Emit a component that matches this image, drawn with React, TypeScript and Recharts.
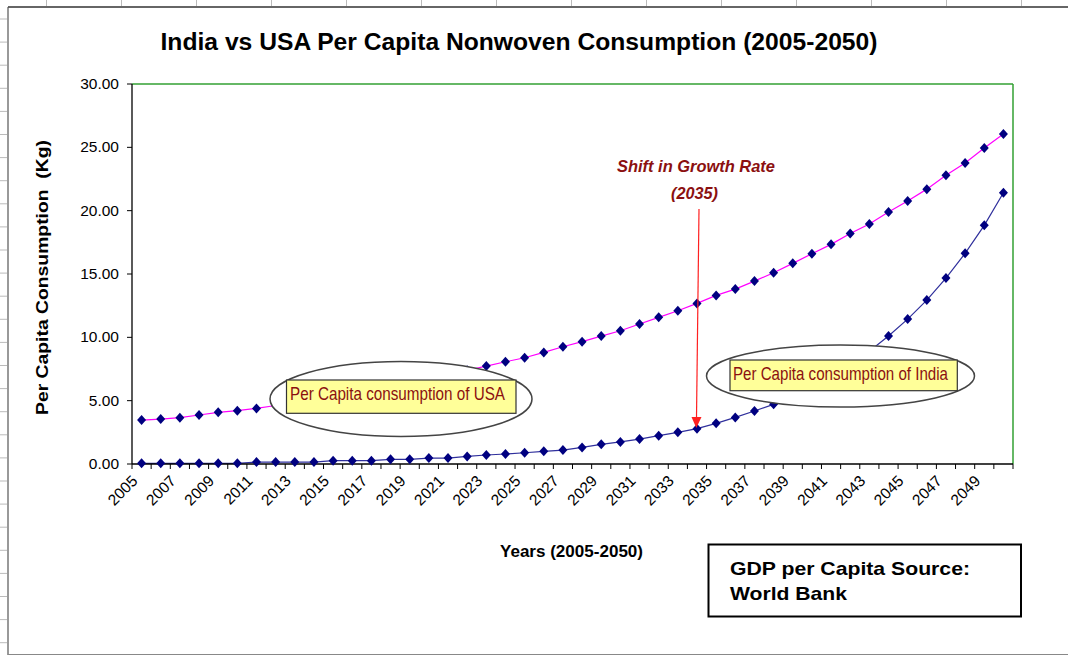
import React from 'react';
import { LineChart, Line, XAxis, YAxis, ReferenceLine } from 'recharts';

const years = [
  2005, 2006, 2007, 2008, 2009, 2010, 2011, 2012, 2013, 2014,
  2015, 2016, 2017, 2018, 2019, 2020, 2021, 2022, 2023, 2024,
  2025, 2026, 2027, 2028, 2029, 2030, 2031, 2032, 2033, 2034,
  2035, 2036, 2037, 2038, 2039, 2040, 2041, 2042, 2043, 2044,
  2045, 2046, 2047, 2048, 2049, 2050,
];

const usaValues = [
  3.47, 3.55, 3.66, 3.87, 4.08, 4.21, 4.39, 4.62, 4.86, 5.12,
  5.38, 5.64, 5.91, 6.19, 6.48, 6.78, 7.08, 7.40, 7.73, 8.07,
  8.39, 8.81, 9.26, 9.66, 10.10, 10.52, 11.05, 11.58, 12.10, 12.68,
  13.31, 13.81, 14.44, 15.10, 15.84, 16.60, 17.34, 18.20, 18.95, 19.90,
  20.76, 21.70, 22.80, 23.76, 24.94, 26.05,
];

const indiaValues = [
  0.05, 0.05, 0.05, 0.05, 0.05, 0.05, 0.15, 0.15, 0.15, 0.15,
  0.26, 0.26, 0.26, 0.37, 0.37, 0.47, 0.47, 0.60, 0.71, 0.79,
  0.89, 1.00, 1.10, 1.31, 1.55, 1.74, 1.97, 2.24, 2.50, 2.79,
  3.21, 3.68, 4.18, 4.71, 5.40, 6.15, 6.95, 7.85, 8.90, 10.10,
  11.44, 12.94, 14.68, 16.63, 18.84, 21.42,
];

const yTicks = [0, 5, 10, 15, 20, 25, 30];

const data = years.map((year, i) => ({
  idx: i,
  year,
  usa: usaValues[i],
  india: indiaValues[i],
}));

// boundary ticks (half-integers) for tick marks, integer ticks for labels
const xTicks: number[] = [];
for (let k = 0; k < years.length; k++) {
  xTicks.push(k - 0.5);
  xTicks.push(k);
}
xTicks.push(years.length - 0.5);

const NARROW = "'Liberation Sans Narrow', 'Arial Narrow', 'Liberation Sans', Arial, sans-serif";
const SANS = "'Liberation Sans', Arial, sans-serif";
const DARKRED = '#8B1010';

const XTick = (props: any) => {
  const { x, y, payload } = props;
  const v = payload.value as number;
  if (!Number.isInteger(v)) {
    return <line x1={x} y1={y} x2={x} y2={y + 5} stroke="#000" strokeWidth={1} />;
  }
  if (v % 2 !== 0) return <g />;
  const ax = x - 3;
  const ay = y + 18;
  return (
    <text
      x={ax}
      y={ay}
      textAnchor="end"
      transform={`rotate(-45, ${ax}, ${ay})`}
      fontSize={15.5}
      fontFamily={NARROW}
      fill="#000"
    >
      {years[v]}
    </text>
  );
};

const YTick = (props: any) => {
  const { x, y, payload } = props;
  return (
    <text x={x} y={y + 5} textAnchor="end" fontSize={15.5} fontFamily={NARROW} fill="#000">
      {(payload.value as number).toFixed(2)}
    </text>
  );
};

const Diamond = (props: any) => {
  const { cx, cy, index } = props;
  if (cx == null || cy == null) return <g key={`e${index}`} />;
  return (
    <path
      key={`d${index}`}
      d={`M${cx},${cy - 5}L${cx + 4.5},${cy}L${cx},${cy + 5}L${cx - 4.5},${cy}Z`}
      fill="#000080"
    />
  );
};

const leftTicks: number[] = [];
for (let k = 0; k < 28; k++) leftTicks.push(19 + 23.1 * k);
const topTicks: number[] = [];
for (let k = 0; k < 14; k++) topTicks.push(46.5 + 75 * k);

export default function App() {
  return (
    <div
      style={{
        position: 'absolute',
        left: 0,
        top: 0,
        width: 1068,
        height: 656,
        background: '#fff',
        overflow: 'hidden',
      }}
    >
      <LineChart
        width={1068}
        height={656}
        data={data}
        margin={{ top: 84, right: 55, bottom: 132, left: 0 }}
      >
        <XAxis
          dataKey="idx"
          type="number"
          domain={[-0.5, years.length - 0.5]}
          ticks={xTicks}
          interval={0}
          tickLine={false}
          tickSize={0}
          tickMargin={0}
          tick={<XTick />}
          axisLine={{ stroke: '#000', strokeWidth: 1.3 }}
          height={60}
        />
        <YAxis
          type="number"
          domain={[0, 30]}
          ticks={yTicks}
          interval={0}
          width={132}
          tickSize={5}
          tickMargin={8}
          tickLine={{ stroke: '#000' }}
          axisLine={{ stroke: '#000', strokeWidth: 1.3 }}
          tick={<YTick />}
        />
        <ReferenceLine y={30} stroke="#33a033" strokeWidth={1.5} />
        <ReferenceLine x={years.length - 0.5} stroke="#33a033" strokeWidth={1.5} />
        <Line
          dataKey="india"
          type="linear"
          stroke="#2f2f9c"
          strokeWidth={1.2}
          dot={Diamond}
          activeDot={false}
          isAnimationActive={false}
        />
        <Line
          dataKey="usa"
          type="linear"
          stroke="#ff00ff"
          strokeWidth={1.2}
          dot={Diamond}
          activeDot={false}
          isAnimationActive={false}
        />
      </LineChart>
      <svg
        width={1068}
        height={656}
        style={{ position: 'absolute', left: 0, top: 0, pointerEvents: 'none' }}
      >
        {/* frame */}
        <line x1={8} y1={7} x2={1068} y2={7} stroke="#333" strokeWidth={1.5} />
        <line x1={8} y1={7} x2={8} y2={655} stroke="#555" strokeWidth={1.2} />
        <line x1={8} y1={654.5} x2={1068} y2={654.5} stroke="#888" strokeWidth={1} />
        {topTicks.map((x, i) => (
          <line key={`tt${i}`} x1={x} y1={0} x2={x} y2={6} stroke="#bbb" strokeWidth={1} />
        ))}
        {leftTicks.map((y, i) => (
          <line key={`lt${i}`} x1={0} y1={y} x2={7} y2={y} stroke="#bbb" strokeWidth={1} />
        ))}

        {/* title */}
        <text
          x={160.5}
          y={50}
          fontSize={23.5}
          fontWeight="bold"
          fontFamily={SANS}
          textLength={717}
          lengthAdjust="spacingAndGlyphs"
          fill="#000"
        >
          India vs USA Per Capita Nonwoven Consumption (2005-2050)
        </text>

        {/* axis titles */}
        <text
          x={0}
          y={0}
          transform="translate(47.5, 277.5) rotate(-90)"
          textAnchor="middle"
          fontSize={16}
          fontWeight="bold"
          fontFamily={SANS}
          textLength={275}
          lengthAdjust="spacingAndGlyphs"
          style={{ whiteSpace: 'pre' }}
          fill="#000"
        >
          Per Capita Consumption  (Kg)
        </text>
        <text
          x={571.5}
          y={557}
          textAnchor="middle"
          fontSize={16.5}
          fontWeight="bold"
          fontFamily={SANS}
          textLength={143}
          lengthAdjust="spacingAndGlyphs"
          fill="#000"
        >
          Years (2005-2050)
        </text>

        {/* shift annotation */}
        <text
          x={696}
          y={171.7}
          textAnchor="middle"
          fontSize={16.5}
          fontWeight="bold"
          fontStyle="italic"
          fontFamily={SANS}
          textLength={158}
          lengthAdjust="spacingAndGlyphs"
          fill={DARKRED}
        >
          Shift in Growth Rate
        </text>
        <text
          x={694.5}
          y={198.5}
          textAnchor="middle"
          fontSize={16.5}
          fontWeight="bold"
          fontStyle="italic"
          fontFamily={SANS}
          textLength={47}
          lengthAdjust="spacingAndGlyphs"
          fill={DARKRED}
        >
          (2035)
        </text>
        <line x1={699} y1={209} x2={696.5} y2={418} stroke="#ff2020" strokeWidth={1.2} />
        <path d="M691.5,417 L701.5,417 L696.3,428 Z" fill="#ff2020" />

        {/* USA label */}
        <ellipse cx={401} cy={399} rx={131} ry={37.5} fill="#fff" stroke="#444" strokeWidth={1.5} />
        <rect x={286.5} y={380} width={229.5} height={33.3} fill="#ffff99" stroke="#333" strokeWidth={1.2} />
        <text
          x={290}
          y={399.5}
          fontSize={18.5}
          fontFamily={NARROW}
          textLength={215}
          lengthAdjust="spacingAndGlyphs"
          fill={DARKRED}
        >
          Per Capita consumption of USA
        </text>

        {/* India label */}
        <ellipse cx={840.5} cy={376} rx={134} ry={31} fill="#fff" stroke="#444" strokeWidth={1.5} />
        <rect x={730} y={360} width={227.3} height={30.7} fill="#ffff99" stroke="#333" strokeWidth={1.2} />
        <text
          x={733}
          y={379.5}
          fontSize={18.5}
          fontFamily={NARROW}
          textLength={215}
          lengthAdjust="spacingAndGlyphs"
          fill={DARKRED}
        >
          Per Capita consumption of India
        </text>

        {/* source box */}
        <rect x={708.5} y={544.5} width={312.5} height={72} fill="#fff" stroke="#000" strokeWidth={2} />
        <text
          x={730}
          y={575}
          fontSize={19}
          fontWeight="bold"
          fontFamily={SANS}
          textLength={240}
          lengthAdjust="spacingAndGlyphs"
          fill="#000"
        >
          GDP per Capita Source:
        </text>
        <text
          x={730}
          y={600}
          fontSize={19}
          fontWeight="bold"
          fontFamily={SANS}
          textLength={117}
          lengthAdjust="spacingAndGlyphs"
          fill="#000"
        >
          World Bank
        </text>
      </svg>
    </div>
  );
}
